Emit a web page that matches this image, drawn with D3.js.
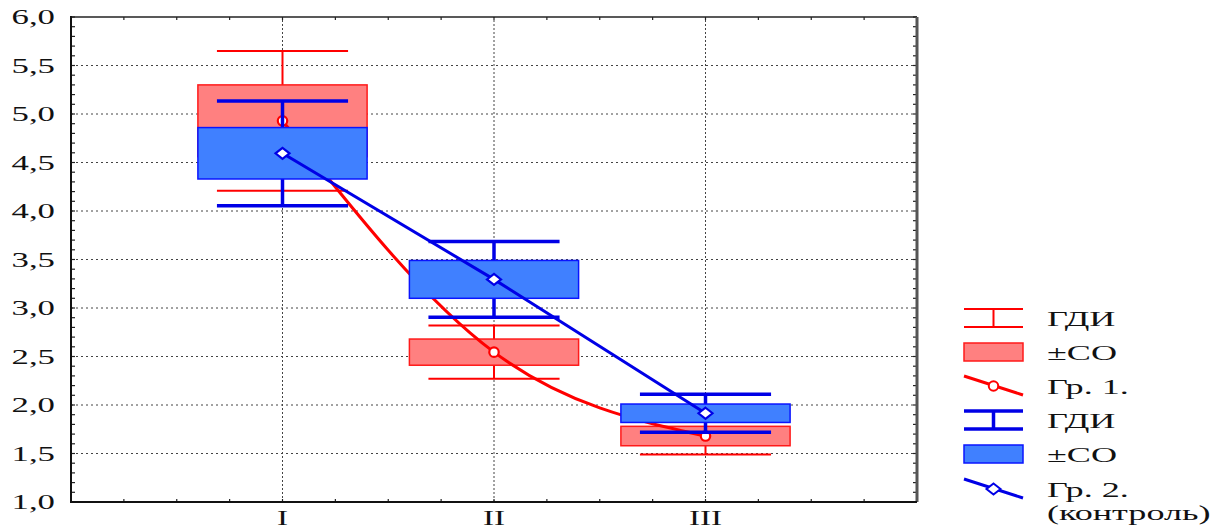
<!DOCTYPE html>
<html>
<head>
<meta charset="utf-8">
<script src="https://cdn.jsdelivr.net/npm/d3@7"></script>
<style>
  body { margin: 0; background: #fff; }
  text { font-family: "Liberation Serif", "DejaVu Serif", serif; fill: #111; }
</style>
</head>
<body>
<svg id="chart"></svg>
<script>
// Stages on the x axis
const categories = ['I', 'II', 'III'];

// Group 1 (red): mean, +/- SD (box), +/- CI (whiskers)
const g1Mean = [4.93, 2.545, 1.68];
const g1Sd = [0.37, 0.135, 0.10];
const g1Ci = [0.72, 0.275, 0.19];

// Group 2 (blue, control)
const g2Mean = [4.595, 3.295, 1.915];
const g2Sd = [0.265, 0.195, 0.095];
const g2Ci = [0.54, 0.39, 0.195];

const yTicks = [1.0, 1.5, 2.0, 2.5, 3.0, 3.5, 4.0, 4.5, 5.0, 5.5, 6.0];

const legendItems = [
  { kind: 'whisker', color: 'red', label: 'ГДИ' },
  { kind: 'box', color: 'red', label: '±СО' },
  { kind: 'line', color: 'red', label: 'Гр. 1.' },
  { kind: 'whisker', color: 'blue', label: 'ГДИ' },
  { kind: 'box', color: 'blue', label: '±СО' },
  { kind: 'line', color: 'blue', label: 'Гр. 2.', label2: '(контроль)' }
];

const W = 1225, H = 530;
const margin = { top: 17, right: 308, bottom: 28, left: 71 };

const colors = {
  red: { line: '#ff0000', fill: '#ff8080', stroke: '#ff1a1a' },
  blue: { line: '#0000e6', fill: '#4080ff', stroke: '#0a14ff' }
};

const svg = d3.select('#chart').attr('width', W).attr('height', H);

const x = d3.scaleLinear().domain([0, 4]).range([margin.left, W - margin.right]);
const y = d3.scaleLinear().domain([1, 6]).range([H - margin.bottom, margin.top]);
const catX = (i) => x(i + 1);

const fmt = (v) => d3.format('.1f')(v).replace('.', ',');

// Grid lines (dotted)
const grid = svg.append('g');
grid.selectAll('.hgrid')
  .data(yTicks.filter(d => d > 1 && d < 6))
  .enter().append('line')
  .attr('x1', x(0)).attr('x2', x(4))
  .attr('y1', d => y(d)).attr('y2', d => y(d))
  .attr('stroke', '#444').attr('stroke-width', 1).attr('stroke-dasharray', '2,3');
grid.selectAll('.vgrid')
  .data(categories)
  .enter().append('line')
  .attr('x1', (d, i) => catX(i)).attr('x2', (d, i) => catX(i))
  .attr('y1', y(1)).attr('y2', y(6))
  .attr('stroke', '#444').attr('stroke-width', 1).attr('stroke-dasharray', '2,2');

// Minor ticks, pointing inside the frame
const yMinor = d3.range(1, 6.001, 0.1);
const xMinor = d3.range(0, 4.001, 0.25);
const ticks = svg.append('g').attr('stroke', '#222').attr('stroke-width', 1.2);
ticks.selectAll('.tl').data(yMinor).enter().append('line')
  .attr('x1', x(0)).attr('x2', x(0) + 4).attr('y1', d => y(d)).attr('y2', d => y(d));
ticks.selectAll('.tr').data(yMinor).enter().append('line')
  .attr('x1', x(4)).attr('x2', x(4) - 4).attr('y1', d => y(d)).attr('y2', d => y(d));
ticks.selectAll('.tb').data(xMinor).enter().append('line')
  .attr('x1', d => x(d)).attr('x2', d => x(d)).attr('y1', y(1)).attr('y2', y(1) - 3);
ticks.selectAll('.tt').data(xMinor).enter().append('line')
  .attr('x1', d => x(d)).attr('x2', d => x(d)).attr('y1', y(6)).attr('y2', y(6) + 3);

// Draw one group: whiskers, boxes, line, markers
const boxHalf = 0.4, capHalf = 0.31;

function drawGroup(mean, sd, ci, c, whiskerW, curve, marker) {
  const g = svg.append('g');
  const idx = mean.map((d, i) => i);

  // whiskers
  g.selectAll('.wv').data(idx).enter().append('line')
    .attr('x1', i => catX(i)).attr('x2', i => catX(i))
    .attr('y1', i => y(mean[i] - ci[i])).attr('y2', i => y(mean[i] + ci[i]))
    .attr('stroke', c.line).attr('stroke-width', whiskerW);
  [-1, 1].forEach(s => {
    g.selectAll('.wc' + s).data(idx).enter().append('line')
      .attr('x1', i => x(i + 1 - capHalf)).attr('x2', i => x(i + 1 + capHalf))
      .attr('y1', i => y(mean[i] + s * ci[i])).attr('y2', i => y(mean[i] + s * ci[i]))
      .attr('stroke', c.line).attr('stroke-width', whiskerW);
  });

  // boxes (+/- SD)
  g.selectAll('.box').data(idx).enter().append('rect')
    .attr('x', i => x(i + 1 - boxHalf))
    .attr('width', x(1 + boxHalf) - x(1 - boxHalf))
    .attr('y', i => y(mean[i] + sd[i]))
    .attr('height', i => y(mean[i] - sd[i]) - y(mean[i] + sd[i]))
    .attr('fill', c.fill).attr('stroke', c.stroke).attr('stroke-width', 1.5);

  // mean line
  const line = d3.line().x((d, i) => catX(i)).y(d => y(d)).curve(curve);
  g.append('path').datum(mean).attr('d', line)
    .attr('fill', 'none').attr('stroke', c.line).attr('stroke-width', 3);

  // markers
  g.selectAll('.m').data(idx).enter().append('path')
    .attr('transform', i => `translate(${catX(i)},${y(mean[i])})`)
    .attr('d', marker)
    .attr('fill', '#fff').attr('stroke', c.line).attr('stroke-width', 2.2);
}

const circleMarker = d3.symbol().type(d3.symbolCircle).size(70)();
const diamondMarker = 'M0,-5.5L7,0L0,5.5L-7,0Z';

drawGroup(g1Mean, g1Sd, g1Ci, colors.red, 2, d3.curveMonotoneX, circleMarker);
drawGroup(g2Mean, g2Sd, g2Ci, colors.blue, 3.5, d3.curveLinear, diamondMarker);

// Frame
svg.append('line').attr('x1', x(0)).attr('x2', x(4)).attr('y1', y(6)).attr('y2', y(6))
  .attr('stroke', '#222').attr('stroke-width', 1.5);
svg.append('line').attr('x1', x(4)).attr('x2', x(4)).attr('y1', y(6)).attr('y2', y(1))
  .attr('stroke', '#555').attr('stroke-width', 3);
svg.append('line').attr('x1', x(0)).attr('x2', x(0)).attr('y1', y(6) - 1).attr('y2', y(1) + 1)
  .attr('stroke', '#111').attr('stroke-width', 2);
svg.append('line').attr('x1', x(0)).attr('x2', x(4)).attr('y1', y(1)).attr('y2', y(1))
  .attr('stroke', '#111').attr('stroke-width', 2);

// Axis labels (the original is stretched horizontally)
const sx = 1.58;
svg.append('g').selectAll('text').data(yTicks).enter().append('text')
  .attr('transform', d => `translate(55,${y(d) + 7}) scale(${sx},1)`)
  .attr('text-anchor', 'end')
  .style('font-size', '22px')
  .text(d => fmt(d));

svg.append('g').selectAll('text').data(categories).enter().append('text')
  .attr('transform', (d, i) => `translate(${catX(i)},${y(1) + 23}) scale(${sx},1)`)
  .attr('text-anchor', 'middle')
  .style('font-size', '21px')
  .text(d => d);

// Legend
const lg = svg.append('g');
const rowY = [318, 352, 386, 420, 454, 489];
const sx0 = 964, sx1 = 1023, sxc = 993.5;
legendItems.forEach((it, k) => {
  const c = colors[it.color];
  const cy = rowY[k];
  if (it.kind === 'whisker') {
    const w = it.color === 'red' ? 2 : 3.5;
    lg.append('line').attr('x1', sx0).attr('x2', sx1).attr('y1', cy - 9).attr('y2', cy - 9)
      .attr('stroke', c.line).attr('stroke-width', w);
    lg.append('line').attr('x1', sx0).attr('x2', sx1).attr('y1', cy + 9).attr('y2', cy + 9)
      .attr('stroke', c.line).attr('stroke-width', w);
    lg.append('line').attr('x1', sxc).attr('x2', sxc).attr('y1', cy - 9).attr('y2', cy + 9)
      .attr('stroke', c.line).attr('stroke-width', w);
  } else if (it.kind === 'box') {
    lg.append('rect').attr('x', sx0).attr('y', cy - 9).attr('width', sx1 - sx0).attr('height', 18)
      .attr('fill', c.fill).attr('stroke', c.stroke).attr('stroke-width', 1.5);
  } else {
    lg.append('line').attr('x1', sx0).attr('x2', sx1).attr('y1', cy - 10).attr('y2', cy + 9)
      .attr('stroke', c.line).attr('stroke-width', 3);
    lg.append('path').attr('transform', `translate(${sxc},${cy})`)
      .attr('d', it.color === 'red' ? circleMarker : diamondMarker)
      .attr('fill', '#fff').attr('stroke', c.line).attr('stroke-width', 2);
  }
  lg.append('text')
    .attr('transform', `translate(1047,${cy + 8}) scale(1.72,1)`)
    .style('font-size', '21px')
    .text(it.label);
  if (it.label2) {
    lg.append('text')
      .attr('transform', `translate(1047,${cy + 31}) scale(1.72,1)`)
      .style('font-size', '21px')
      .text(it.label2);
  }
});
</script>
</body>
</html>
